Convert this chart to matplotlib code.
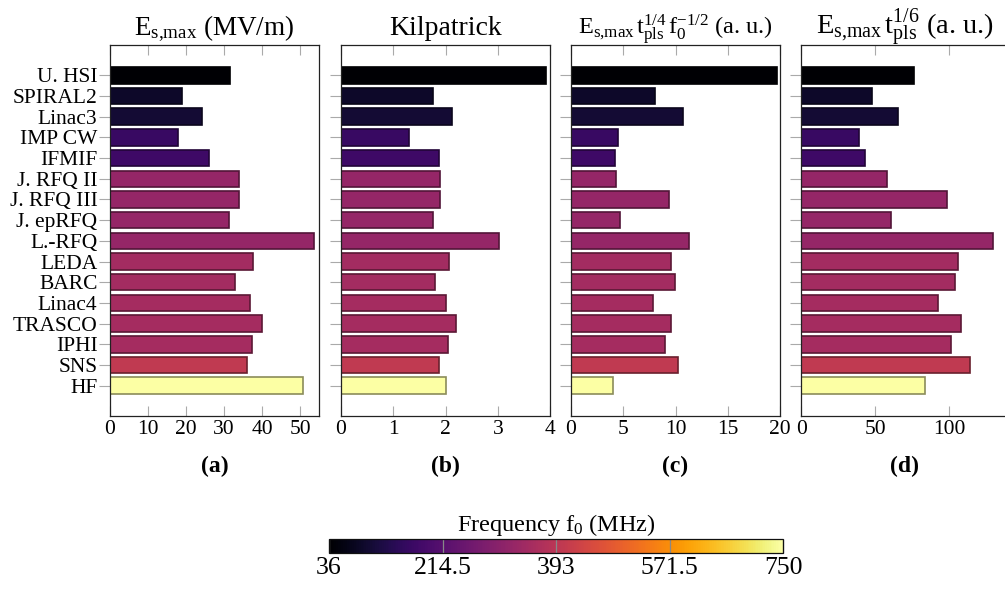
import numpy as np
import matplotlib
matplotlib.use("Agg")
import matplotlib.pyplot as plt
from matplotlib import cm, colors

plt.rcParams['font.family'] = ['Liberation Serif', 'DejaVu Serif']
plt.rcParams['mathtext.fontset'] = 'custom'
plt.rcParams['mathtext.rm'] = 'Liberation Serif'
plt.rcParams['mathtext.it'] = 'Liberation Serif:italic'
plt.rcParams['mathtext.bf'] = 'Liberation Serif:bold'

# data
names = ["U. HSI", "SPIRAL2", "Linac3", "IMP CW", "IFMIF", "J. RFQ II", "J. RFQ III",
         "J. epRFQ", "L.-RFQ", "LEDA", "BARC", "Linac4", "TRASCO", "IPHI", "SNS", "HF"]
freq = [36, 88, 101.28, 162.5, 175, 324, 324, 324, 325, 350, 350, 352.2, 352.2, 352.2, 402.5, 750]
es_max = [31.5, 19.0, 24.1, 17.8, 26.0, 33.9, 33.9, 31.3, 53.6, 37.7, 33.0, 36.8, 40.0, 37.4, 36.1, 50.7]
kilpatrick = [3.93, 1.76, 2.12, 1.30, 1.87, 1.90, 1.90, 1.76, 3.03, 2.06, 1.80, 2.01, 2.20, 2.04, 1.87, 2.01]
scaled_c = [19.7, 8.07, 10.7, 4.47, 4.24, 4.27, 9.38, 4.69, 11.26, 9.60, 9.98, 7.88, 9.60, 8.96, 10.2, 3.99]
scaled_d = [76.4, 48.0, 65.3, 38.7, 43.2, 58.1, 98.4, 60.4, 129.5, 105.9, 104.1, 92.3, 107.9, 101.1, 114.0, 83.6]

titles = [r"$\mathrm{E_{s{,}max}}$ (MV/m)", "Kilpatrick",
          r"$\mathrm{E_{s{,}max}\,t_{pls}^{1/4}\,f_0^{-1/2}}$ (a. u.)",
          r"$\mathrm{E_{s{,}max}\,t_{pls}^{1/6}}$ (a. u.)"]
title_sizes = [19.5, 20, 17.5, 20.5]
letters = ["(a)", "(b)", "(c)", "(d)"]
xlims = [(0, 55), (0, 4), (0, 20), (0, 140)]
xticks = [[0, 10, 20, 30, 40, 50], [0, 1, 2, 3, 4], [0, 5, 10, 15, 20], [0, 50, 100]]
series = [es_max, kilpatrick, scaled_c, scaled_d]

cmap = matplotlib.colormaps["inferno"]
norm = colors.Normalize(vmin=36, vmax=750)

fig = plt.figure(figsize=(10.05, 5.93), dpi=100)
W, H = 1005.0, 593.0
lefts = [110, 341, 571, 801.3]
widths = [209, 209, 209, 207]
bottom = 1 - 416 / H
height = 371 / H

ypos = np.arange(len(names))
face = [cmap(norm(f)) for f in freq]
edge = [tuple(np.array(c[:3]) * 0.55) for c in face]

for k in range(4):
    ax = fig.add_axes([lefts[k] / W, bottom, widths[k] / W, height])
    ax.barh(ypos, series[k], height=0.8, color=face, edgecolor=edge, linewidth=1.2)
    ax.set_xlim(*xlims[k])
    ax.set_ylim(15 + 1.47, -1.47)
    ax.set_xticks(xticks[k])
    ax.set_yticks(ypos)
    if k == 0:
        ax.set_yticklabels(names, fontsize=15.5)
    else:
        ax.set_yticklabels([])
    ax.tick_params(axis='x', direction='in', top=True, length=7.5, width=0.8,
                   color='#aaaaaa', labelsize=15.5, pad=3)
    ax.tick_params(axis='y', direction='out', length=8, width=0.8,
                   color='#aaaaaa', pad=1)
    for s in ax.spines.values():
        s.set_linewidth(0.9)
        s.set_color('#222222')
    ax.set_title(titles[k], fontsize=title_sizes[k], pad=7)
    ax.text(0.5, -0.135, letters[k], transform=ax.transAxes, ha='center', va='center',
            fontsize=17, fontweight='bold')

cax = fig.add_axes([329 / W, 1 - 553 / H, 454 / W, 14.5 / H])
sm = cm.ScalarMappable(norm=norm, cmap=cmap)
cb = fig.colorbar(sm, cax=cax, orientation='horizontal')
cb.set_ticks([36, 214.5, 393, 571.5, 750])
cb.set_ticklabels(["36", "214.5", "393", "571.5", "750"])
cb.ax.tick_params(direction='in', length=10.4, width=0.9, color='#888888', labelsize=18.5, pad=3)
cb.outline.set_linewidth(0.9)
cb.outline.set_edgecolor('#111111')
cax.set_title(r"Frequency $\mathrm{f_0}$ (MHz)", fontsize=17.5, pad=4)

fig.savefig("out.png", dpi=100)
